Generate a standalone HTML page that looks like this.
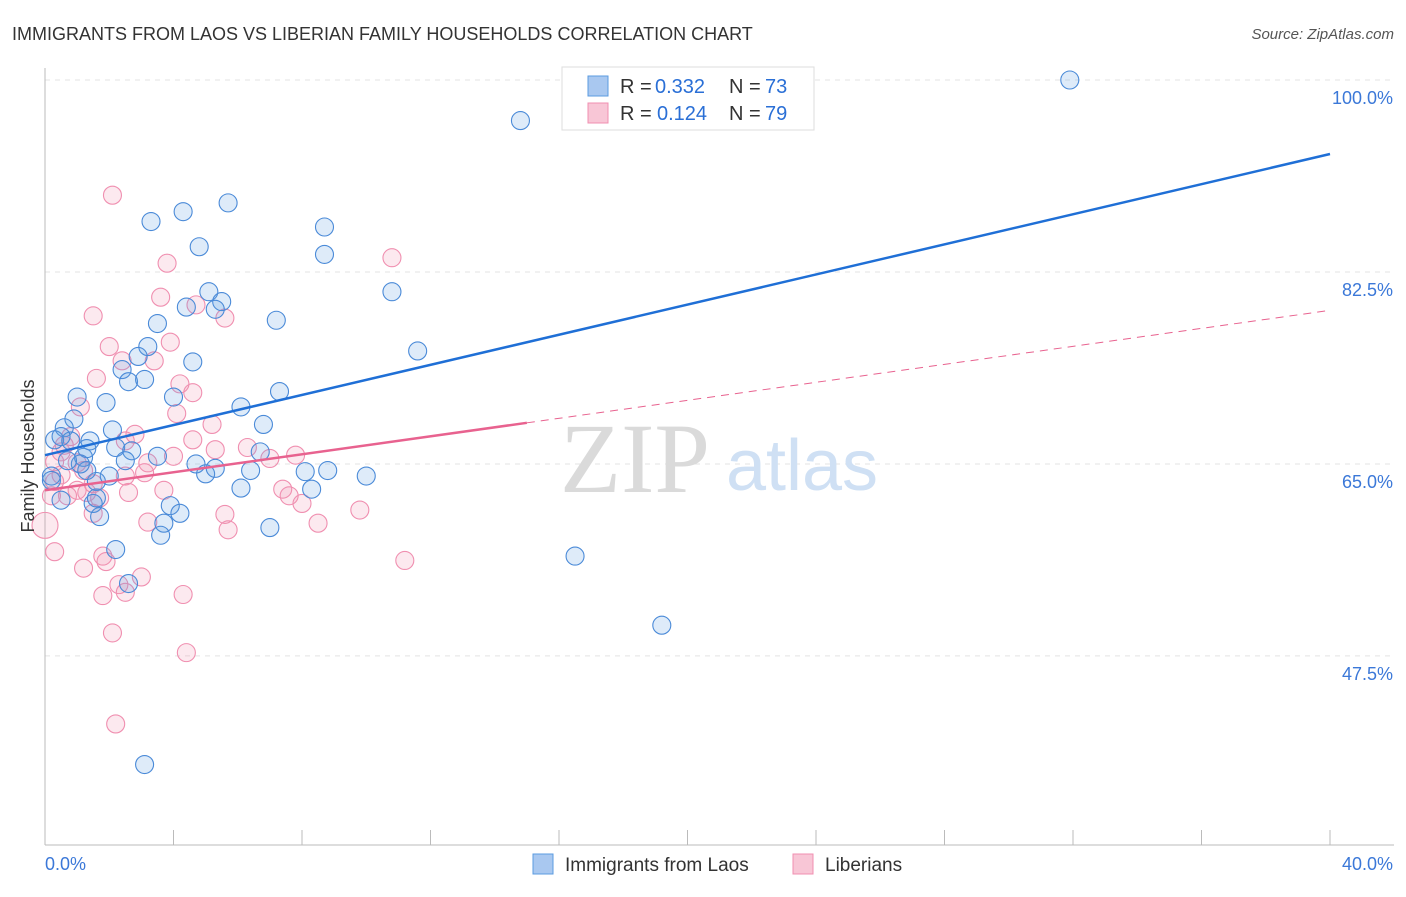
<!DOCTYPE html>
<html><head><meta charset="utf-8">
<style>
body{margin:0;background:#fff;font-family:"Liberation Sans",sans-serif;}
</style></head>
<body>
<svg width="1406" height="892" viewBox="0 0 1406 892" xmlns="http://www.w3.org/2000/svg" font-family="Liberation Sans, sans-serif">
<text x="12" y="40" font-size="18" fill="#333">IMMIGRANTS FROM LAOS VS LIBERIAN FAMILY HOUSEHOLDS CORRELATION CHART</text>
<text x="1394" y="39" font-size="15" fill="#555" font-style="italic" text-anchor="end">Source: ZipAtlas.com</text>
<g id="grid"></g>
<g id="axes"></g>
<g>
<text x="635" y="492" font-size="100" fill="#dadada" style="font-family:'Liberation Serif',serif" text-anchor="middle">ZIP</text>
<text x="802" y="490" font-size="72" fill="#cfe0f4" text-anchor="middle">atlas</text>
</g>
<g id="pts"></g>
<g id="lines"></g>
<text x="34" y="456" font-size="18" fill="#333" transform="rotate(-90 34 456)" text-anchor="middle">Family Households</text>
<g>
<rect x="562" y="67" width="252" height="63" fill="#fff" stroke="#ddd"/>
<rect x="588" y="76" width="20" height="20" fill="#a9c8f0" stroke="#5b9be0"/>
<rect x="588" y="103" width="20" height="20" fill="#f8c6d6" stroke="#f08fb0"/>
<text x="620" y="93" font-size="20" fill="#333">R =</text><text x="655" y="93" font-size="20" fill="#2a6fd6">0.332</text>
<text x="729" y="93" font-size="20" fill="#333">N =</text><text x="765" y="93" font-size="20" fill="#2a6fd6">73</text>
<text x="620" y="120" font-size="20" fill="#333">R =</text><text x="657" y="120" font-size="20" fill="#2a6fd6">0.124</text>
<text x="729" y="120" font-size="20" fill="#333">N =</text><text x="765" y="120" font-size="20" fill="#2a6fd6">79</text>
</g>
<g>
<rect x="533" y="854" width="20" height="20" fill="#a9c8f0" stroke="#5b9be0"/>
<text x="565" y="871" font-size="19" fill="#333">Immigrants from Laos</text>
<rect x="793" y="854" width="20" height="20" fill="#f8c6d6" stroke="#f08fb0"/>
<text x="825" y="871" font-size="19" fill="#333">Liberians</text>
</g>
</svg>
<script>
const yTicks=[100,82.5,65,47.5];
const yTickLabels=["100.0%","82.5%","65.0%","47.5%"];
const xLabels=["0.0%","40.0%"];
const laosX=[31.9,14.8,5.7,4.3,3.3,4.8,8.7,8.7,10.8,5.1,5.5,4.4,5.3,3.5,7.2,11.6,3.2,2.9,4.6,2.4,2.6,3.1,1.0,4.0,1.9,7.3,6.1,0.9,6.8,0.6,2.1,1.4,0.8,0.3,2.2,2.7,3.5,6.7,1.2,2.5,0.2,4.7,5.0,5.3,6.4,8.1,8.8,10.0,2.0,1.6,1.3,0.5,6.1,8.3,3.9,4.2,1.5,1.7,3.7,7.0,3.6,2.2,16.5,2.6,19.2,3.1,0.2,0.5,1.3,1.1,0.7,1.6];
const laosY=[100.0,96.3,88.8,88.0,87.1,84.8,86.6,84.1,80.7,80.7,79.8,79.3,79.1,77.8,78.1,75.3,75.7,74.8,74.3,73.6,72.5,72.7,71.1,71.1,70.6,71.6,70.2,69.1,68.6,68.3,68.1,67.1,67.1,67.2,66.5,66.2,65.7,66.1,65.6,65.3,63.9,65.0,64.1,64.6,64.4,64.3,64.4,63.9,63.9,63.4,64.4,61.7,62.8,62.7,61.2,60.5,61.4,60.2,59.6,59.2,58.5,57.2,56.6,54.1,50.3,37.6,63.5,67.5,66.4,65.0,65.3,61.9];
const libX=[2.1,3.8,10.8,3.6,4.7,5.6,1.5,2.0,2.4,3.4,3.9,1.6,4.2,4.6,1.1,4.1,5.2,2.8,2.5,0.8,4.6,6.3,5.3,7.8,4.0,0.5,7.0,1.0,0.3,3.2,0.5,3.1,1.2,2.5,0.3,1.5,3.7,7.4,0.2,1.0,1.7,2.6,7.6,8.0,5.6,9.8,3.2,8.5,1.5,5.7,0.0,0.3,1.8,1.9,1.2,3.0,2.3,2.5,1.8,4.3,2.1,4.4,2.2,11.2,0.7,1.3,0.6];
const libY=[89.5,83.3,83.8,80.2,79.5,78.3,78.5,75.7,74.4,74.4,76.1,72.8,72.3,71.5,70.2,69.6,68.6,67.7,67.1,67.5,67.2,66.5,66.3,65.8,65.7,66.1,65.5,65.1,65.2,65.1,64.0,64.2,64.4,63.9,63.4,63.2,62.6,62.7,62.1,62.6,61.9,62.4,62.1,61.4,60.4,60.8,59.7,59.6,60.5,59.0,59.4,57.0,56.6,56.1,55.5,54.7,54.0,53.3,53.0,53.1,49.6,47.8,41.3,56.2,62.1,62.4,66.7];
const laosLine=[65.8,0.6863];
const libLine=[62.6,0.41];
const NS="http://www.w3.org/2000/svg";
const X=v=>45+v*1285/40;
const Y=v=>80+(100-v)*10.97;
function mk(t,a,p){const e=document.createElementNS(NS,t);for(const k in a)e.setAttribute(k,a[k]);p.appendChild(e);return e;}
const grid=document.getElementById('grid'),axes=document.getElementById('axes');
yTicks.forEach((t,i)=>{
 const l=mk('line',{x1:45,x2:1394,y1:Y(t),y2:Y(t),stroke:'#e3e3e3','stroke-dasharray':'5,5'},grid);
 
 
 const tx=mk('text',{x:1393,y:Y(t)+24,'font-size':18,fill:'#3b78d8','text-anchor':'end'},axes);
 tx.textContent=yTickLabels[i];
 
 
});
mk('line',{x1:45,x2:45,y1:68,y2:845,stroke:'#bbb'},axes);
mk('line',{x1:45,x2:1394,y1:845,y2:845,stroke:'#bbb'},axes);
for(let i=0;i<=10;i++){mk('line',{x1:X(i*4),x2:X(i*4),y1:830,y2:845,stroke:'#bbb'},axes);}
const xl0=mk('text',{x:45,y:870,'font-size':18,fill:'#3b78d8'},axes);xl0.textContent=xLabels[0];


const xl1=mk('text',{x:1393,y:870,'font-size':18,fill:'#3b78d8','text-anchor':'end'},axes);xl1.textContent=xLabels[1];


const pts=document.getElementById('pts');
libX.forEach((x,i)=>{
 const c=mk('circle',{cx:X(x),cy:Y(libY[i]),r:(x===0?13:9),fill:'rgba(240,143,176,0.2)',stroke:'#f08fb0','stroke-width':1.1},pts);
 
 
});
laosX.forEach((x,i)=>{
 const c=mk('circle',{cx:X(x),cy:Y(laosY[i]),r:9,fill:'rgba(91,155,224,0.2)',stroke:'#4a8ad8','stroke-width':1.1},pts);
 
 
});
const lines=document.getElementById('lines');
const bl=mk('line',{x1:X(0),y1:Y(laosLine[0]),x2:X(40),y2:Y(laosLine[0]+40*laosLine[1]),stroke:'#1f6fd6','stroke-width':2.5},lines);


const pl=mk('line',{x1:X(0),y1:Y(libLine[0]),x2:X(15),y2:Y(libLine[0]+15*libLine[1]),stroke:'#e8628f','stroke-width':2.5},lines);


const pd=mk('line',{x1:X(15),y1:Y(libLine[0]+15*libLine[1]),x2:X(40),y2:Y(libLine[0]+40*libLine[1]),stroke:'#e8628f','stroke-width':1,'stroke-dasharray':'8,6'},lines);


</script>
</body></html>
